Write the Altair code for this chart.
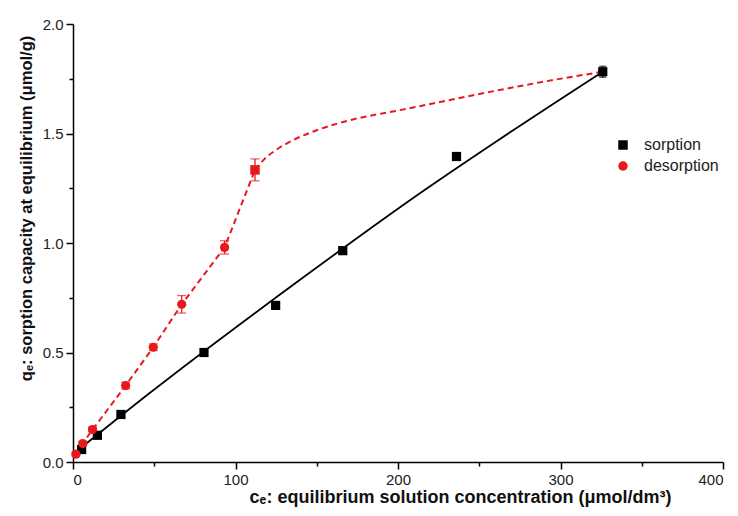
import altair as alt
import pandas as pd

# sorption (black squares)
sorp_c = [5.3, 15.0, 29.5, 80.6, 124.7, 166.0, 236.0, 326.0]
sorp_q = [0.057, 0.122, 0.217, 0.500, 0.715, 0.965, 1.395, 1.782]
sorp_err = [0.008, 0.008, 0.010, 0.010, 0.015, 0.015, 0.012, 0.025]

# desorption (red circles)
des_c = [1.8, 6.0, 12.0, 32.4, 49.4, 66.9, 93.3]
des_q = [0.036, 0.084, 0.148, 0.349, 0.524, 0.720, 0.980]
des_err = [0.008, 0.010, 0.010, 0.015, 0.015, 0.040, 0.030]

# red square at the end of the straight desorption branch
end_c = [112.0]
end_q = [1.334]
end_err = [0.050]

# black fitted curve (sorption)
fit_c = [2.3, 47.4, 139.7, 216.6, 262.8, 326.0]
fit_q = [0.049, 0.316, 0.832, 1.243, 1.475, 1.782]

# red dashed curve, upper branch (desorption)
curve_c = [112.0, 118.0, 125.0, 135.0, 150.0, 170.0, 200.0, 230.0, 260.0, 290.0, 326.0]
curve_q = [1.334, 1.385, 1.425, 1.468, 1.515, 1.560, 1.605, 1.650, 1.695, 1.737, 1.782]

x_ticks = [0, 50, 100, 150, 200, 250, 300, 350, 400]
y_ticks = [0, 0.25, 0.5, 0.75, 1.0, 1.25, 1.5, 1.75, 2.0]

series_names = ["sorption", "desorption"]
series_colors = ["#000000", "#e8191c"]
series_shapes = ["square", "circle"]
RED = "#e8191c"

pts = pd.DataFrame(
    {"c": sorp_c + des_c,
     "q": sorp_q + des_q,
     "err": sorp_err + des_err,
     "series": ["sorption"] * len(sorp_c) + ["desorption"] * len(des_c)}
)
pts["lo"] = pts["q"] - pts["err"]
pts["hi"] = pts["q"] + pts["err"]

sorp_df = pts[pts["series"] == "sorption"]
des_df = pd.concat([
    pts[pts["series"] == "desorption"],
    pd.DataFrame({"c": end_c, "q": end_q, "err": end_err,
                  "lo": [end_q[0] - end_err[0]], "hi": [end_q[0] + end_err[0]],
                  "series": ["desorption"]}),
])

endp = pd.DataFrame({"c": end_c, "q": end_q})
fit = pd.DataFrame({"c": fit_c, "q": fit_q})
lower = pd.DataFrame({"c": des_c + end_c, "q": des_q + end_q})
curve = pd.DataFrame({"c": curve_c, "q": curve_q})

x_scale = alt.Scale(domain=[0, 400], nice=False, zero=False)
y_scale = alt.Scale(domain=[0, 2.0], nice=False, zero=False)

x_axis = alt.Axis(
    title="cₑ: equilibrium solution concentration (μmol/dm³)",
    values=x_ticks,
    labelExpr="datum.value % 100 == 0 ? datum.label : ''",
    format="d",
    tickSize={"condition": {"test": "datum.value % 100 == 0", "value": 7}, "value": 4},
    titleFontSize=18,
    titleX=387,
    titleY=40,
    titleAlign="center",
    titleBaseline="alphabetic",
)
y_axis = alt.Axis(
    title="qₑ: sorption capacity at equilibrium (μmol/g)",
    values=y_ticks,
    labelExpr="datum.value % 0.5 == 0 ? format(datum.value, '.1f') : ''",
    tickSize={"condition": {"test": "datum.value % 0.5 == 0", "value": 7}, "value": 4},
    titleFontSize=16.5,
    titleX=-42,
    titleY=184,
    titleAlign="center",
    titleBaseline="alphabetic",
    titleAngle=270,
)

X = alt.X("c:Q", scale=x_scale, axis=x_axis)
Y = alt.Y("q:Q", scale=y_scale, axis=y_axis)
Xs = alt.X("c:Q", scale=x_scale)
Ys = alt.Y("q:Q", scale=y_scale)

fit_line = alt.Chart(fit).mark_line(
    color="#000000", strokeWidth=1.8, interpolate="monotone"
).encode(x=X, y=Y, order="c:Q")

lower_line = alt.Chart(lower).mark_line(
    color=RED, strokeWidth=2, strokeDash=[6, 4]
).encode(x=Xs, y=Ys, order="c:Q")

curve_line = alt.Chart(curve).mark_line(
    color=RED, strokeWidth=2, strokeDash=[6, 4], interpolate="monotone"
).encode(x=Xs, y=Ys, order="c:Q")


def errbars(df, color, cap):
    rule = alt.Chart(df).mark_rule(strokeWidth=1.3, color=color).encode(
        x=Xs, y=alt.Y("lo:Q", scale=y_scale), y2="hi:Q"
    )
    lo = alt.Chart(df).mark_tick(orient="horizontal", size=cap, thickness=1.3, color=color).encode(
        x=Xs, y=alt.Y("lo:Q", scale=y_scale)
    )
    hi = alt.Chart(df).mark_tick(orient="horizontal", size=cap, thickness=1.3, color=color).encode(
        x=Xs, y=alt.Y("hi:Q", scale=y_scale)
    )
    return [rule, lo, hi]


legend = alt.Legend(
    title=None, orient="none", legendX=542, legendY=113, padding=0,
    labelFontSize=16, labelFont="Liberation Sans", labelColor="#222222",
    symbolSize=90, rowPadding=5, labelOffset=13, symbolStrokeWidth=0,
)

points = alt.Chart(pts).mark_point(filled=True, opacity=1, size=85).encode(
    x=Xs,
    y=Ys,
    color=alt.Color("series:N", scale=alt.Scale(domain=series_names, range=series_colors), legend=legend),
    shape=alt.Shape("series:N", scale=alt.Scale(domain=series_names, range=series_shapes), legend=legend),
)

end_pt = alt.Chart(endp).mark_point(
    filled=True, opacity=1, size=90, shape="square", color=RED
).encode(x=Xs, y=Ys)

layers = ([fit_line, lower_line, curve_line] + errbars(sorp_df, "#000000", 7)
          + errbars(des_df, RED, 9) + [points, end_pt])

chart = alt.layer(*layers).properties(
    width=650,
    height=438,
    autosize=alt.AutoSizeParams(type="none"),
    padding={"left": 73, "top": 24, "right": 15, "bottom": 54},
    background="white",
).configure_view(
    stroke=None
).configure_axis(
    grid=False,
    domainColor="#000000",
    domainWidth=1.5,
    tickColor="#000000",
    tickWidth=1.5,
    labelFont="Liberation Sans",
    labelFontSize=15,
    labelColor="#222222",
    labelPadding=3,
    titleFont="Liberation Sans",
    titleFontWeight="bold",
    titleColor="#111111",
)

chart.save("out.html", embed_options={"renderer": "svg", "actions": False})
